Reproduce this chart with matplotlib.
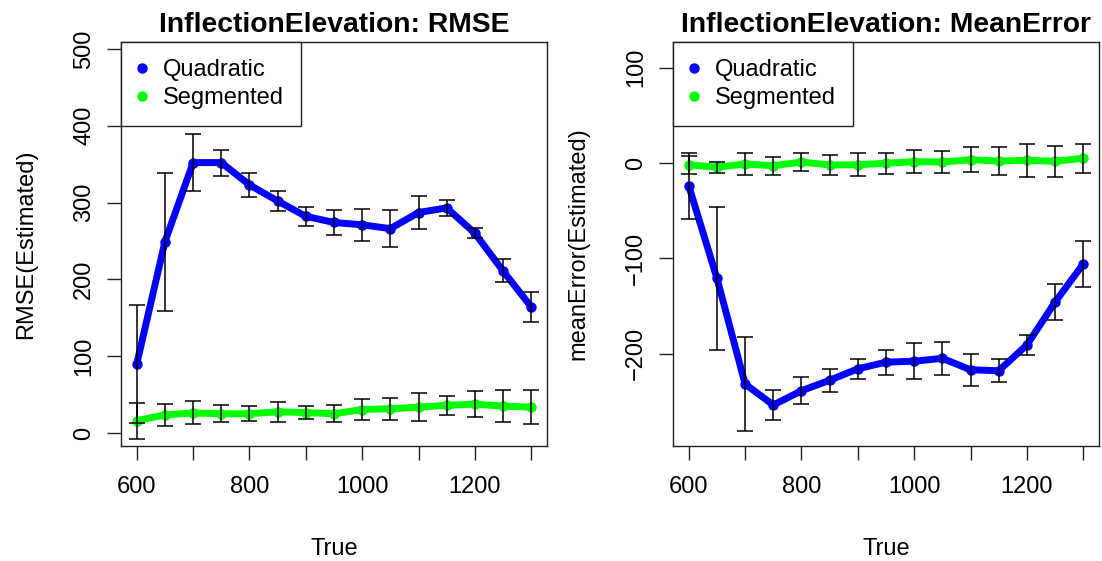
import matplotlib
matplotlib.use("Agg")
import matplotlib.pyplot as plt
from matplotlib.lines import Line2D

plt.rcParams['font.family'] = ['Liberation Sans', 'DejaVu Sans']

true_vals = [600, 650, 700, 750, 800, 850, 900, 950, 1000, 1050, 1100, 1150, 1200, 1250, 1300]

# RMSE panel
rmse_quad = [90, 249, 352, 352, 323, 302, 282, 274, 271, 266, 287, 293, 260, 211, 164]
rmse_quad_err = [77, 90, 37, 17, 16, 13, 12, 16, 21, 24, 21, 10, 6.5, 15, 20]
rmse_seg = [16, 23.5, 26, 25, 25, 27.5, 26.5, 25, 30.5, 31.5, 33.5, 36, 37.5, 35, 33.5]
rmse_seg_err = [23.5, 14, 15, 11, 10, 13, 8, 11, 14, 14, 18, 12, 16.5, 21, 22]

# MeanError panel
me_quad = [-24, -121, -232, -254, -239, -228, -216, -209, -208, -205, -217, -218, -191, -146, -106]
me_quad_err = [35, 75, 49.5, 15.5, 14, 12, 10.5, 13, 19, 17, 17, 12, 10.5, 19, 24]
me_seg = [-1.8, -4.5, -1, -2.8, 1, -2, -1.8, -0.3, 1.4, 1, 3.5, 2, 2.8, 1.8, 5]
me_seg_err = [9.5, 5.8, 11.8, 9.6, 9.5, 10.7, 12.2, 10.8, 12.4, 11.4, 13.3, 15, 17, 16.2, 15]

panels = [
    dict(title='InflectionElevation: RMSE', ylabel='RMSE(Estimated)',
         quad=rmse_quad, quad_err=rmse_quad_err, seg=rmse_seg, seg_err=rmse_seg_err,
         ylim=(-17, 509), yticks=[0, 100, 200, 300, 400, 500]),
    dict(title='InflectionElevation: MeanError', ylabel='meanError(Estimated)',
         quad=me_quad, quad_err=me_quad_err, seg=me_seg, seg_err=me_seg_err,
         ylim=(-297, 127), yticks=[-200, -100, 0, 100]),
]

fig = plt.figure(figsize=(11.02, 5.61), dpi=100)
lefts = [121 / 1102, 673 / 1102]

for left, p in zip(lefts, panels):
    ax = fig.add_axes([left, 1 - 446 / 561, 426 / 1102, 404 / 561])
    ax.plot(true_vals, p['quad'], color='#0000ff', lw=5, marker='o', ms=6.5,
            solid_capstyle='round', zorder=2)
    ax.plot(true_vals, p['seg'], color='#00ff00', lw=5, marker='o', ms=6.5,
            solid_capstyle='round', zorder=2)
    ax.errorbar(true_vals, p['quad'], yerr=p['quad_err'], fmt='none', ecolor='black',
                elinewidth=1.1, capsize=6, capthick=1.1, zorder=3)
    ax.errorbar(true_vals, p['seg'], yerr=p['seg_err'], fmt='none', ecolor='black',
                elinewidth=1.1, capsize=6, capthick=1.1, zorder=3)

    ax.set_xlim(572, 1328)
    ax.set_ylim(*p['ylim'])
    xt = [600, 700, 800, 900, 1000, 1100, 1200, 1300]
    ax.set_xticks(xt)
    ax.set_xticklabels([str(v) if v % 200 == 0 else '' for v in xt])
    ax.set_yticks(p['yticks'])
    ax.tick_params(axis='both', direction='out', length=10, width=1.0,
                   labelsize=17, color='#222222')
    ax.tick_params(axis='x', pad=11.5)
    ax.tick_params(axis='y', pad=8.5, labelrotation=90)
    for lab in ax.get_yticklabels():
        lab.set_verticalalignment('center')
    for s in ax.spines.values():
        s.set_linewidth(1.0)
        s.set_color('#222222')

    ax.text(0.5, 1.0255, p['title'], transform=ax.transAxes, ha='center',
            va='baseline', fontsize=20.3, fontweight='bold')
    ax.text(0.5, -0.270, 'True', transform=ax.transAxes, ha='center',
            va='baseline', fontsize=17)
    ax.text(-0.209, 0.5, p['ylabel'], transform=ax.transAxes, ha='center',
            va='baseline', rotation=90, rotation_mode='anchor', fontsize=17)

    handles = [Line2D([], [], ls='none', marker='o', ms=6.5, color='#0000ff'),
               Line2D([], [], ls='none', marker='o', ms=6.5, color='#00ff00')]
    leg = ax.legend(handles, ['Quadratic', 'Segmented'], loc='upper left',
                    bbox_to_anchor=(0, 1), borderaxespad=0, fancybox=False,
                    edgecolor='#222222', fontsize=17, borderpad=0.71,
                    handlelength=0.36, handletextpad=0.71, labelspacing=0.26,
                    framealpha=1)
    leg.get_frame().set_linewidth(1.0)

fig.savefig('out.png', dpi=100, facecolor='white')
